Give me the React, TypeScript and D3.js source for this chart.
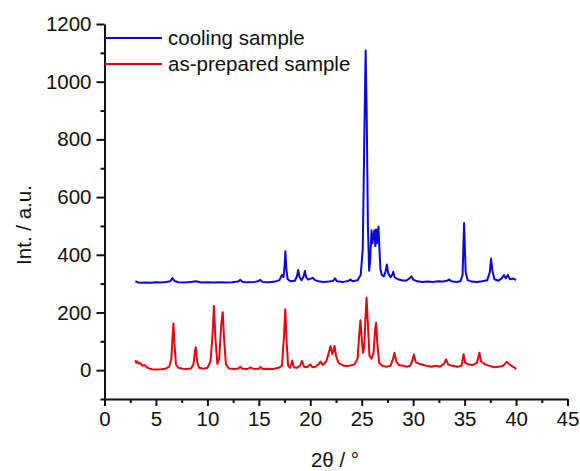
import React, { useEffect, useRef } from 'react';
import { select, line, scaleLinear, axisBottom, axisLeft, range } from 'd3';

// [2theta, intensity]
const coolingSample: [number, number][] = [
  [3.0, 308], [3.3, 304], [3.6, 303], [4.0, 304], [4.5, 303], [5.0, 305], [5.5, 304], [6.0, 306],
  [6.4, 308], [6.6, 319], [6.8, 309], [7.2, 305], [7.8, 304], [8.4, 306], [8.9, 308], [9.4, 304],
  [10.0, 305], [10.6, 304], [11.2, 305], [11.8, 304], [12.4, 305], [13.0, 307], [13.2, 313], [13.4, 306],
  [14.0, 305], [14.6, 306], [15.0, 309], [15.15, 313], [15.35, 306], [16.0, 305], [16.6, 307], [17.0, 312],
  [17.25, 330], [17.4, 322], [17.5, 360], [17.58, 412], [17.68, 350], [17.8, 315], [18.1, 308], [18.5, 310],
  [18.7, 325], [18.83, 347], [18.95, 322], [19.15, 312], [19.35, 325], [19.48, 344], [19.6, 322], [19.8, 314],
  [20.1, 318], [20.25, 320], [20.45, 312], [20.8, 308], [21.3, 306], [21.8, 307], [22.2, 309], [22.4, 318],
  [22.6, 308], [23.2, 306], [23.7, 309], [23.9, 314], [24.1, 308], [24.6, 312], [24.9, 330], [25.1, 420],
  [25.25, 800], [25.38, 1108], [25.48, 900], [25.6, 500], [25.72, 345], [25.82, 380], [25.95, 485], [26.05, 440],
  [26.15, 470], [26.24, 485], [26.32, 430], [26.4, 488], [26.48, 440], [26.55, 470], [26.63, 498], [26.72, 420],
  [26.82, 350], [26.95, 330], [27.15, 325], [27.3, 340], [27.44, 366], [27.58, 335], [27.8, 322], [27.95, 330],
  [28.06, 341], [28.2, 322], [28.5, 315], [28.9, 312], [29.3, 310], [29.65, 318], [29.84, 325], [30.0, 314],
  [30.4, 308], [30.9, 306], [31.4, 307], [31.9, 306], [32.4, 308], [32.9, 307], [33.3, 310], [33.5, 314],
  [33.7, 308], [34.2, 306], [34.6, 308], [34.8, 330], [34.95, 510], [35.1, 340], [35.3, 312], [35.7, 307],
  [36.2, 306], [36.7, 308], [37.2, 312], [37.45, 340], [37.57, 387], [37.7, 345], [37.9, 315], [38.3, 310],
  [38.6, 318], [38.83, 330], [39.0, 318], [39.2, 330], [39.4, 315], [39.7, 318], [40.0, 312],
];

const asPreparedSample: [number, number][] = [
  [3.0, 35], [3.1, 25], [3.2, 30], [3.35, 22], [3.5, 24], [3.7, 15], [3.9, 18], [4.2, 8],
  [4.6, 3], [5.0, 2], [5.5, 3], [6.0, 6], [6.3, 12], [6.5, 40], [6.62, 120], [6.7, 162],
  [6.8, 90], [6.95, 20], [7.2, 8], [7.6, 5], [8.0, 4], [8.4, 6], [8.65, 20], [8.8, 68],
  [8.88, 79], [9.0, 30], [9.2, 8], [9.6, 5], [10.0, 8], [10.3, 30], [10.5, 120], [10.64, 222],
  [10.78, 110], [10.97, 22], [11.15, 40], [11.35, 160], [11.49, 201], [11.62, 110], [11.8, 20], [12.1, 6],
  [12.6, 4], [13.0, 6], [13.2, 12], [13.4, 5], [13.9, 4], [14.2, 10], [14.5, 4], [15.0, 5],
  [15.15, 11], [15.4, 4], [15.9, 5], [16.4, 4], [16.9, 8], [17.25, 15], [17.45, 120], [17.57, 211],
  [17.7, 100], [17.85, 15], [18.05, 8], [18.25, 33], [18.4, 10], [18.7, 8], [19.0, 15], [19.2, 32],
  [19.4, 12], [19.7, 10], [20.0, 20], [20.2, 10], [20.5, 12], [20.8, 20], [21.0, 30], [21.2, 18],
  [21.55, 30], [21.8, 60], [21.97, 84], [22.15, 55], [22.36, 84], [22.5, 50], [22.75, 25], [23.0, 20],
  [23.3, 15], [23.6, 14], [23.9, 16], [24.3, 20], [24.6, 40], [24.75, 120], [24.88, 173], [25.0, 110],
  [25.12, 60], [25.25, 80], [25.35, 170], [25.47, 251], [25.6, 160], [25.75, 50], [25.95, 40], [26.15, 60],
  [26.3, 140], [26.4, 164], [26.52, 90], [26.7, 25], [27.0, 15], [27.4, 12], [27.8, 15], [28.05, 40],
  [28.18, 60], [28.35, 30], [28.6, 18], [29.0, 15], [29.4, 12], [29.7, 15], [29.9, 30], [30.06, 54],
  [30.25, 28], [30.6, 22], [31.0, 18], [31.4, 14], [31.8, 12], [32.2, 15], [32.6, 12], [33.0, 22],
  [33.2, 37], [33.4, 20], [33.8, 15], [34.3, 12], [34.7, 15], [34.9, 55], [35.05, 25], [35.4, 20],
  [35.8, 18], [36.2, 25], [36.44, 60], [36.6, 30], [37.0, 20], [37.5, 14], [37.9, 10], [38.3, 12],
  [38.7, 14], [39.0, 25], [39.1, 29], [39.3, 22], [39.6, 14], [39.9, 8], [40.0, 2],
];

const xTicks = [0, 5, 10, 15, 20, 25, 30, 35, 40, 45];
const yTicks = [0, 200, 400, 600, 800, 1000, 1200];
const legendLabels = ['cooling sample', 'as-prepared sample'];
const seriesColors = ['#0a0ad2', '#e4060e'];

const W = 580;
const H = 471;
const FONT = 'Arial, "Liberation Sans", sans-serif';
const FS = 20.5;

const App = () => {
  const svgRef = useRef<SVGSVGElement>(null);

  useEffect(() => {
    const svg = select(svgRef.current);
    svg.selectAll('*').remove();

    const x = scaleLinear().domain([0, 45]).range([104.5, 567.5]);
    const y = scaleLinear().domain([-100, 1200]).range([399, 24]);

    // minor ticks
    svg.append('g')
      .attr('transform', `translate(0,${y(-100)})`)
      .call(axisBottom(x).tickValues(range(2.5, 45, 5)).tickSize(4).tickSizeOuter(0).tickFormat(() => ''))
      .call((g) => g.select('.domain').remove());
    svg.append('g')
      .attr('transform', `translate(${x(0)},0)`)
      .call(axisLeft(y).tickValues(range(-100, 1200, 200)).tickSize(4).tickSizeOuter(0).tickFormat(() => ''))
      .call((g) => g.select('.domain').remove());

    const gx = svg.append('g')
      .attr('transform', `translate(0,${y(-100)})`)
      .call(axisBottom(x).tickValues(xTicks).tickSize(7).tickSizeOuter(0).tickPadding(5).tickFormat((d) => String(d)));
    const gy = svg.append('g')
      .attr('transform', `translate(${x(0)},0)`)
      .call(axisLeft(y).tickValues(yTicks).tickSize(8).tickSizeOuter(0).tickPadding(5).tickFormat((d) => String(d)));

    [gx, gy].forEach((g) => {
      g.selectAll('text').attr('font-size', FS).attr('font-family', FONT).attr('fill', '#111');
    });
    svg.selectAll('.domain, .tick line').attr('stroke', '#111').attr('stroke-width', 2);

    const path = line<[number, number]>()
      .x((d) => x(d[0]))
      .y((d) => y(d[1]));

    [asPreparedSample, coolingSample].forEach((data, i) => {
      svg.append('path')
        .datum(data)
        .attr('fill', 'none')
        .attr('stroke', seriesColors[1 - i])
        .attr('stroke-width', 2)
        .attr('stroke-linejoin', 'round')
        .attr('d', path);
    });

    // legend
    legendLabels.forEach((label, i) => {
      const ly = i === 0 ? 38 : 64;
      svg.append('line')
        .attr('x1', 105).attr('x2', 162)
        .attr('y1', ly).attr('y2', ly)
        .attr('stroke', seriesColors[i]).attr('stroke-width', 1.8);
      svg.append('text')
        .attr('x', 168).attr('y', ly + 7)
        .attr('font-size', FS).attr('font-family', FONT).attr('fill', '#111')
        .text(label);
    });

    svg.append('text')
      .attr('transform', `translate(31,225) rotate(-90)`)
      .attr('text-anchor', 'middle')
      .attr('font-size', FS).attr('font-family', FONT).attr('fill', '#111')
      .text('Int. / a.u.');

    svg.append('text')
      .attr('x', 335).attr('y', 467)
      .attr('text-anchor', 'middle')
      .attr('font-size', FS).attr('font-family', FONT).attr('fill', '#111')
      .text('2θ / °');
  }, []);

  return (
    <svg
      ref={svgRef}
      width={W}
      height={H}
      style={{ position: 'absolute', left: 0, top: 0, background: '#fff' }}
    />
  );
};

export default App;
